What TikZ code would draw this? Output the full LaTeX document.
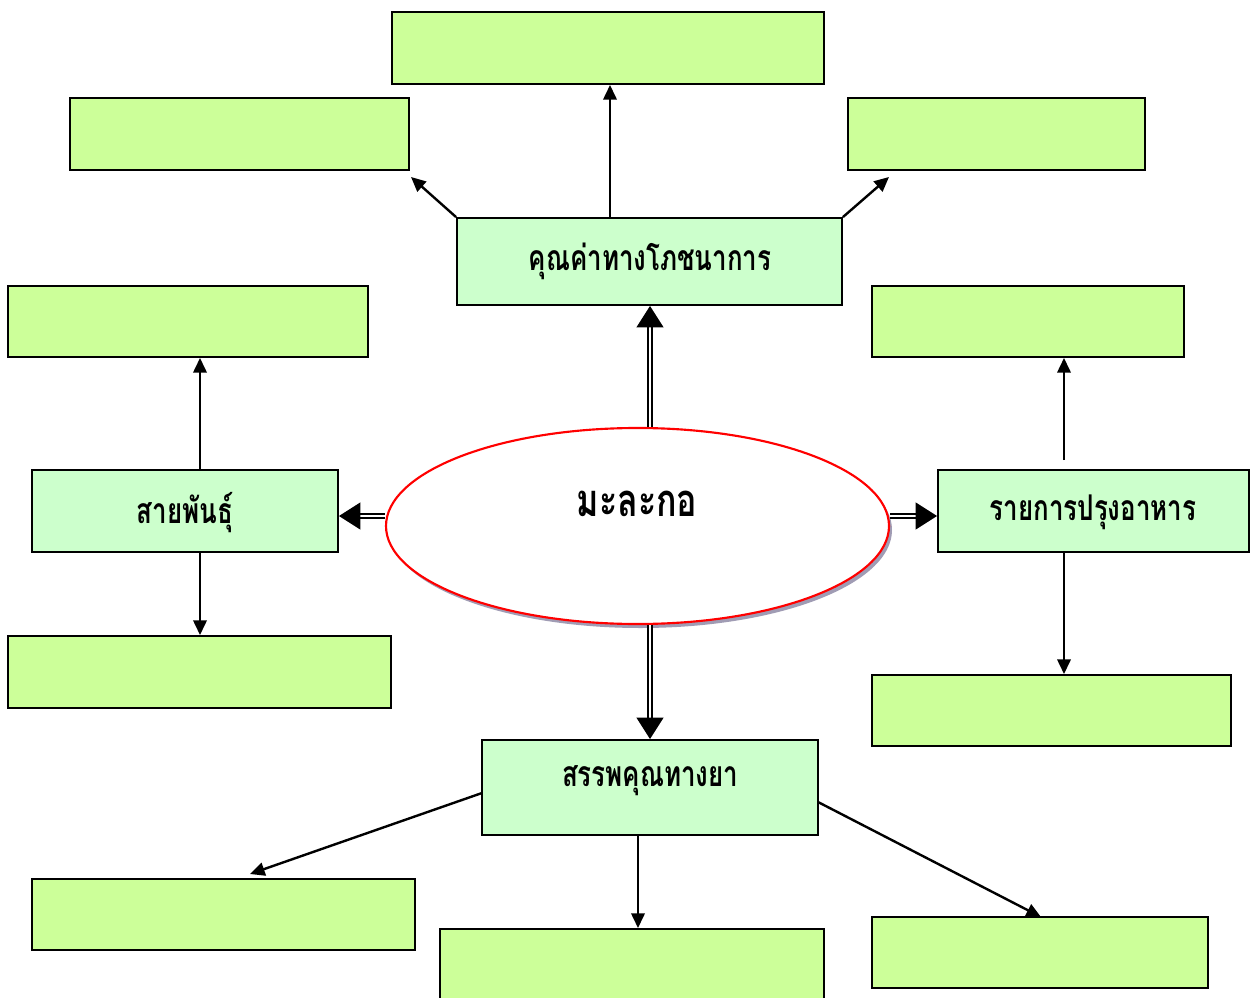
\documentclass[tikz,border=0pt]{standalone}
\usepackage{fontspec}
\newfontfamily\thai[Script=Thai, FakeStretch=0.73]{Loma}
\newfontfamily\thaiL[Script=Thai, FakeStretch=0.75]{Loma}
\usetikzlibrary{arrows.meta,shapes.geometric}
\definecolor{lime}{HTML}{CCFF99}
\definecolor{mint}{HTML}{CCFFCC}
\definecolor{shad}{HTML}{A09CB4}
\newcommand{\bx}[6]{\node[#6, minimum width={(#4-#2)*0.75pt}, minimum height={(#5-#3)*0.75pt}] (#1) at ({(#2+#4)/2},{(#3+#5)/2}) {};}
\begin{document}
\begin{tikzpicture}[x=0.75pt,y=-0.75pt,
  gbox/.style={draw=black, line width=1.4pt, fill=lime, inner sep=0pt, rectangle},
  mbox/.style={draw=black, line width=1.4pt, fill=mint, inner sep=0pt, rectangle},
  lbl/.style={font=\thai\bfseries\fontsize{26.6}{30}\selectfont, inner sep=0pt},
  biglbl/.style={font=\thaiL\bfseries\fontsize{34}{38}\selectfont, inner sep=0pt},
  conn/.style={line width=1.8pt, -{Triangle[length=11pt,width=10pt]}},
  dbl/.style={double, double distance=2pt, line width=1.4pt, -{Triangle[length=16pt,width=20pt]}}]
\useasboundingbox (0,0) rectangle (1255,998);
\fill[white] (0,0) rectangle (1255,998);
% outer boxes
\bx{t}{392}{12}{824}{84}{gbox}
\bx{tl}{70}{98}{409}{170}{gbox}
\bx{tr}{848}{98}{1145}{170}{gbox}
\bx{lu}{8}{286}{368}{357}{gbox}
\bx{ru}{872}{286}{1184}{357}{gbox}
\bx{ll}{8}{636}{391}{708}{gbox}
\bx{rl}{872}{675}{1231}{746}{gbox}
\bx{bl}{32}{879}{415}{950}{gbox}
\bx{bc}{440}{929}{824}{1010}{gbox}
\bx{br}{872}{917}{1208}{988}{gbox}
% main boxes
\bx{nut}{457}{218}{842}{305}{mbox}
\bx{var}{32}{470}{338}{552}{mbox}
\bx{cook}{938}{470}{1249}{552}{mbox}
\bx{med}{482}{740}{818}{835}{mbox}
\node[lbl] (nutT) at (650,261) {คุณค่าทางโภชนาการ};
\node[lbl] (varT) at (185,513) {สายพันธุ์};
\node[lbl] (cookT) at (1093,512) {รายการปรุงอาหาร};
\node[lbl] (medT) at (650,781) {สรรพคุณทางยา};
% centre ellipse
\fill[shad] (640.5,530) ellipse [x radius=251.5, y radius=98];
\node[ellipse, draw=red, line width=1.6pt, fill=white, minimum width=503*0.75pt, minimum height=196*0.75pt, inner sep=0pt] (ell) at (637.5,526) {};
\node[biglbl] (ellT) at (637,504) {มะละกอ};
% coordinates for double connectors
\coordinate (cx) at (650,0);
\coordinate (cy) at (0,516);
\draw[dbl] (ell.north -| cx) -- (nut.south -| cx);
\draw[dbl] (ell.south -| cx) -- (med.north -| cx);
\draw[dbl] (ell.west |- cy) -- (var.east |- cy);
\draw[dbl] (ell.east |- cy) -- (cook.west |- cy);
% plain connectors
\coordinate (n1) at (610,0);
\coordinate (tlE) at (411,177);
\coordinate (trE) at (889,177);
\draw[conn] (nut.north -| n1) -- (t.south -| n1);
\draw[conn] (nut.north west) -- (tlE);
\draw[conn] (nut.north east) -- (trE);
\coordinate (v1) at (200,0);
\draw[conn] (var.north -| v1) -- (lu.south -| v1);
\draw[conn] (var.south -| v1) -- (ll.north -| v1);
\coordinate (c1) at (1064,460);
\draw[conn] (c1) -- (ru.south -| c1);
\draw[conn] (cook.south -| c1) -- (rl.north -| c1);
\coordinate (m1) at (638,0);
\coordinate (mL) at (482,793);
\coordinate (mR) at (818,802);
\coordinate (bL) at (250,874);
\coordinate (bR) at (1041,917);
\draw[conn] (mL) -- (bL);
\draw[conn] (med.south -| m1) -- (bc.north -| m1);
\draw[conn] (mR) -- (bR);
\end{tikzpicture}
\end{document}
